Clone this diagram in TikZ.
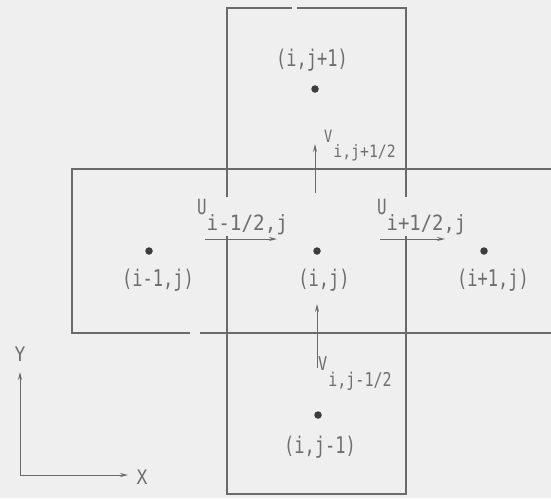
\documentclass[tikz,border=0pt]{standalone}
\usepackage{fontspec}
\setmonofont{DejaVu Sans Mono}
\usetikzlibrary{arrows.meta}
\definecolor{bgc}{HTML}{EFEFEF}
\definecolor{linec}{HTML}{6A6A6A}
\definecolor{txtc}{HTML}{6E6E6E}
\definecolor{dotc}{HTML}{3C3C3C}
\newcommand{\narrow}[2][0.74]{\scalebox{#1}[1]{#2}}
\begin{document}
\begin{tikzpicture}[x=1pt,y=-1pt,
  grid/.style={draw=linec, line width=1.1pt},
  flow/.style={draw=linec, line width=1pt, -{Stealth[length=8pt,width=4pt]}},
  cell/.style={circle, fill=dotc, inner sep=0pt, minimum size=7.5pt},
  lbl/.style={text=txtc, font=\fontsize{23}{25}\ttfamily, inner sep=0pt},
  vel/.style={text=txtc, fill=bgc, inner sep=1.5pt, anchor=base west}]
\path[use as bounding box, fill=bgc] (0,0) rectangle (551,498);
% column of cells
\draw[grid] (292,8) -- (227,8) -- (227,494) -- (406,494) -- (406,8) -- (297,8);
% row of cells
\draw[grid] (190,333) -- (72,333) -- (72,169) -- (551,169);
\draw[grid] (200,333) -- (551,333);
% cell centres
\node[cell] (c) at (317,251) {};
\node[cell] (w) at (149,251) {};
\node[cell] (e) at (484,251) {};
\node[cell] (n) at (315,89) {};
\node[cell] (s) at (318,415) {};
% cell labels
\node[lbl] (cl) at (324,280) {\narrow{(i,j)}};
\node[lbl] (wl) at (158,280) {\narrow{(i-1,j)}};
\node[lbl] (el) at (493,280) {\narrow{(i+1,j)}};
\node[lbl] (nl) at (312,60) {\narrow{(i,j+1)}};
\node[lbl] (sl) at (320,447) {\narrow{(i,j-1)}};
% velocity labels (they break the cell lines behind them)
\node[vel, font=\fontsize{21}{23}\ttfamily] (uwl) at (195.5,214) {\narrow[0.75]{U}\raisebox{-16pt}{\narrow[0.92]{i-1/2,j}}};
\node[vel, font=\fontsize{21}{23}\ttfamily] (uel) at (375.5,214) {\narrow[0.75]{U}\raisebox{-16pt}{\narrow[0.9]{i+1/2,j}}};
\node[vel, font=\fontsize{17}{19}\ttfamily] (vnl) at (322.5,142) {\narrow[0.8]{V}\hspace{1pt}\raisebox{-15pt}{\narrow[0.87]{i,j+1/2}}};
\node[vel, font=\fontsize{19}{21}\ttfamily] (vsl) at (316.5,370) {\narrow[0.8]{V}\hspace{1pt}\raisebox{-16pt}{\narrow[0.79]{i,j-1/2}}};
% velocity arrows
\coordinate (uw0) at (205,239); \coordinate (uw1) at (277,239);
\coordinate (ue0) at (380,239); \coordinate (ue1) at (445,239);
\coordinate (vn0) at (315,193); \coordinate (vn1) at (315,144);
\coordinate (vs0) at (317,368); \coordinate (vs1) at (317,304);
\draw[flow] (uw0) -- (uw1);
\draw[flow] (ue0) -- (ue1);
\draw[flow] (vn0) -- (vn1);
\draw[flow] (vs0) -- (vs1);
% axes
\coordinate (o) at (20,475);
\coordinate (ay) at (20,372);
\coordinate (ax) at (128,475);
\draw[flow] (o) -- (ay);
\draw[flow] (o) -- (ax);
\node[lbl, font=\fontsize{20}{22}\ttfamily] (yl) at (20,354) {\narrow[0.9]{Y}};
\node[lbl, font=\fontsize{20}{22}\ttfamily] (xl) at (142,477) {\narrow[0.9]{X}};
\end{tikzpicture}
\end{document}
